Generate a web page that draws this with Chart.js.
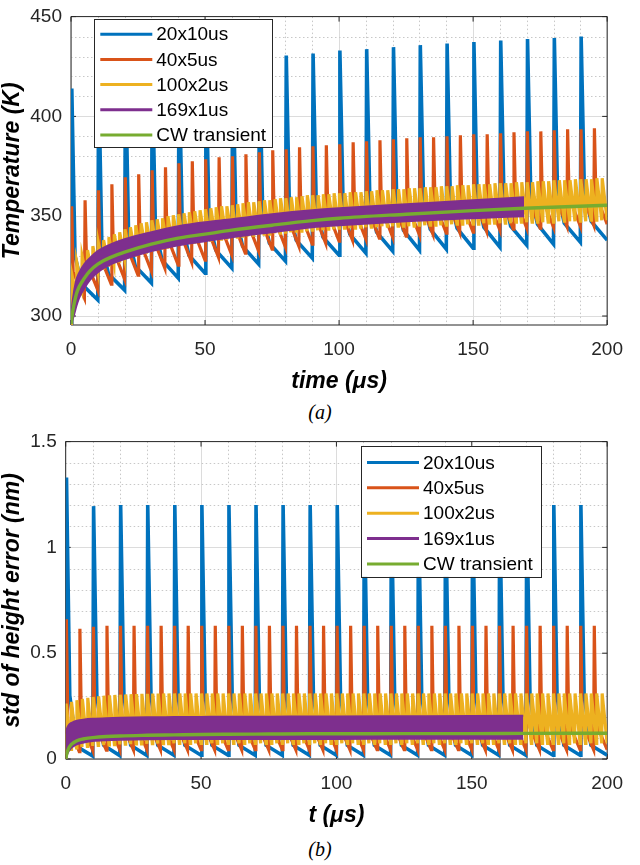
<!DOCTYPE html>
<html>
<head>
<meta charset="utf-8">
<script src="https://cdn.jsdelivr.net/npm/chart.js@4.4.1/dist/chart.umd.min.js"></script>
<style>
  body { margin: 0; background: #fff; width: 640px; height: 865px; position: relative; overflow: hidden; }
  .wrap { position: absolute; left: 0; width: 640px; }
  .cap { position: absolute; left: 0; width: 640px; text-align: center; line-height: 24px;
         font: italic 20px 'Liberation Serif', 'Times New Roman', serif; color: #000; }
</style>
</head>
<body>
<div class="wrap" style="top:0;"><canvas id="chartA" width="640" height="400"></canvas></div>
<div class="cap" style="top:401px;">(a)</div>
<div class="wrap" style="top:425px;"><canvas id="chartB" width="640" height="410"></canvas></div>
<div class="cap" style="top:838px;">(b)</div>
<script>
// ---- legend / axes ----
var seriesNames = ['20x10us', '40x5us', '100x2us', '169x1us', 'CW transient'];
var seriesColors = ['#0072BD', '#D95319', '#EDB120', '#7E2F8E', '#77AC30'];

var xTicks = [0, 50, 100, 150, 200];
var xMinorTicks = [10, 20, 30, 40, 60, 70, 80, 90, 110, 120, 130, 140, 160, 170, 180, 190];
var tempTicks = [300, 350, 400, 450];
var tempMinorTicks = [310, 320, 330, 340, 360, 370, 380, 390, 410, 420, 430, 440];
var errTicks = [0, 0.5, 1, 1.5];
var errMinorTicks = [0.1, 0.2, 0.3, 0.4, 0.6, 0.7, 0.8, 0.9, 1.1, 1.2, 1.3, 1.4];

// ---- (a) temperature, one value per pulse ----
// 20 pulses, 10 us period
var tempBluePeak = [414, 422, 424, 426, 427, 428, 429, 430, 430.5, 431.5,
  433, 433.7, 434.7, 435.7, 436.5, 437.3, 438, 438.8, 439.3, 440];
var tempBlueKnee = [330, 336, 340, 343, 346, 348, 350, 352, 353, 355,
  356, 357, 358, 358.5, 359, 360, 360.5, 361, 362, 363];
var tempBlueMid = [316, 321, 325, 328, 330.5, 333, 335, 336.5, 338, 339.5,
  341, 342, 343, 343.5, 344, 344.5, 345, 346, 346.5, 347.5];
var tempBlueTrough = [296, 308, 313, 316.5, 319, 321.5, 324, 326, 327.5, 329,
  330.5, 331.5, 332.5, 333, 333.5, 334, 334.5, 335.5, 336, 337, 338];

// 40 pulses, 5 us period
var tempOrangePeak = [355, 358, 363, 366, 369.5, 371, 373, 374.5, 376.5, 377.5,
  378.5, 379.5, 380, 381, 382, 383, 383.5, 384.5, 385, 385.5,
  386, 387, 387.5, 388, 388.5, 389, 389.5, 389.5, 390, 390.5,
  391, 391, 391.5, 392, 392.5, 392.5, 393, 393.5, 393.5, 394];
var tempOrangeKnee = [322, 327, 330, 333, 335, 337, 338.5, 340, 341.5, 342.5,
  344, 345, 346, 347, 348, 349, 349.5, 350.5, 351, 352,
  352.5, 353, 353.5, 354, 354.5, 355, 355.5, 356, 356.5, 356.5,
  357, 357.5, 358, 358.5, 358.5, 359, 359.5, 359.5, 360, 360.5];
var tempOrangeTrough = [296, 309, 313, 316, 318.5, 320.5, 322.5, 324, 325.5, 327,
  328, 329.5, 330.5, 331.5, 332.5, 333.5, 334.5, 335, 336, 336.5,
  337.5, 338, 338.5, 339, 339.5, 340, 340.5, 341, 341.5, 342,
  342, 342.5, 343, 343.5, 344, 344, 344.5, 345, 345, 345.5, 346];

// 100 pulses, 2 us period
var tempYellowPeak = [322, 327, 330, 333, 335, 337, 338, 339.5, 341, 342,
  343.5, 344.5, 345.5, 346.5, 347, 348, 348.5, 349, 350, 350.5,
  351, 351.5, 352, 352.5, 353, 353.5, 354, 354.5, 355, 355,
  355.5, 356, 356.5, 357, 357, 357.5, 358, 358, 358.5, 359,
  359, 359.5, 359.5, 360, 360.5, 360.5, 360.5, 361, 361, 361.5,
  361.5, 361.5, 362, 362, 362, 362.5, 362.5, 363, 363, 363,
  363.5, 363.5, 363.5, 364, 364, 364, 364.5, 364.5, 364.5, 365,
  365, 365, 365.5, 365.5, 365.5, 366, 366, 366, 366, 366.5,
  366.5, 366.5, 366.5, 367, 367, 367, 367, 367.5, 367.5, 367.5,
  368, 368, 368, 368, 368.5, 368.5, 368.5, 368.5, 369, 369];
var tempYellowTrough = [296, 310, 315, 318, 320.5, 322.5, 324, 325.5, 326.5, 327.5,
  329, 329.5, 330.5, 331, 332, 333, 333.5, 334, 334.5, 335,
  336, 336.5, 336.5, 337, 337.5, 338, 338, 338.5, 338.5, 339,
  339.5, 339.5, 340, 340, 340.5, 341, 341, 341, 341.5, 341.5,
  342, 342, 342.5, 342.5, 342.5, 343, 343, 343, 343.5, 343.5,
  344, 344, 344, 344, 344.5, 344.5, 344.5, 344.5, 345, 345,
  345, 345, 345, 345, 345, 345.5, 345.5, 345.5, 345.5, 345.5,
  345.5, 346, 346, 346, 346, 346, 346, 346.5, 346.5, 346.5,
  346.5, 346.5, 346.5, 347, 347, 347, 347, 347, 347, 347,
  347, 347.5, 347.5, 347.5, 347.5, 347.5, 347.5, 348, 348, 348, 348];

// 169 x 1 us: band edges of the fast oscillation
var purpleTimes = [0, 0.5, 1, 2, 3, 5, 7, 10, 15, 20, 30, 40, 50, 60, 75, 90, 100, 125, 150, 169];
var tempPurpleHigh = [298, 306, 311, 318, 321.5, 326, 329, 332.5, 336, 338.5,
  342, 345, 347, 348.5, 351, 353, 354, 356, 358, 359.5];
var tempPurpleLow = [296, 298, 300, 305, 309, 314, 318, 322, 326, 328.5,
  332.5, 335.5, 337.5, 339.5, 342, 344.5, 345.5, 347.5, 349, 350];

var cwTimes = [0, 0.5, 1, 2, 3, 5, 7, 10, 15, 20, 30, 40, 50, 60, 75, 90, 100, 125, 150, 169, 200];
var tempCW = [296, 301, 305, 311, 314.5, 319, 322.5, 326, 329.5, 332,
  336, 339, 341, 343, 345.5, 347.8, 349, 351, 352.8, 354, 355.5];

// ---- (b) std of height error ----
var errBluePeak = [1.33, 1.195, 1.2, 1.2, 1.2, 1.2, 1.2, 1.2, 1.2, 1.2,
  1.2, 1.2, 1.2, 1.2, 1.2, 1.2, 1.2, 1.2, 1.2, 1.2];
var errBlueKnee = [0.3, 0.3, 0.3, 0.3, 0.3, 0.3, 0.3, 0.3, 0.3, 0.3,
  0.3, 0.3, 0.3, 0.3, 0.3, 0.3, 0.3, 0.3, 0.3, 0.3];
var errBlueMid = [0.06, 0.065, 0.065, 0.065, 0.065, 0.065, 0.065, 0.065, 0.065, 0.065,
  0.065, 0.065, 0.065, 0.065, 0.065, 0.065, 0.065, 0.065, 0.065, 0.065];
var errBlueTrough = [0, 0.014, 0.016, 0.017, 0.018, 0.018, 0.018, 0.018, 0.018, 0.018,
  0.018, 0.018, 0.018, 0.018, 0.018, 0.018, 0.018, 0.018, 0.018, 0.018, 0.018];

var errOrangePeak = [0.66, 0.615, 0.625, 0.63, 0.63, 0.63, 0.63, 0.63, 0.63, 0.63,
  0.63, 0.63, 0.63, 0.63, 0.63, 0.63, 0.63, 0.63, 0.63, 0.63,
  0.63, 0.63, 0.63, 0.63, 0.63, 0.63, 0.63, 0.63, 0.63, 0.63,
  0.63, 0.63, 0.63, 0.63, 0.63, 0.63, 0.63, 0.63, 0.63, 0.63];
var errOrangeKnee = [0.17, 0.17, 0.17, 0.17, 0.17, 0.17, 0.17, 0.17, 0.17, 0.17,
  0.17, 0.17, 0.17, 0.17, 0.17, 0.17, 0.17, 0.17, 0.17, 0.17,
  0.17, 0.17, 0.17, 0.17, 0.17, 0.17, 0.17, 0.17, 0.17, 0.17,
  0.17, 0.17, 0.17, 0.17, 0.17, 0.17, 0.17, 0.17, 0.17, 0.17];
var errOrangeTrough = [0, 0.035, 0.04, 0.042, 0.043, 0.044, 0.044, 0.044, 0.044, 0.044,
  0.044, 0.044, 0.044, 0.044, 0.044, 0.044, 0.044, 0.044, 0.044, 0.044,
  0.044, 0.044, 0.044, 0.044, 0.044, 0.044, 0.044, 0.044, 0.044, 0.044,
  0.044, 0.044, 0.044, 0.044, 0.044, 0.044, 0.044, 0.044, 0.044, 0.044, 0.044];

var errYellowPeak = [0.262, 0.27, 0.278, 0.284, 0.289, 0.293, 0.296, 0.299, 0.301, 0.303,
  0.304, 0.305, 0.306, 0.307, 0.308, 0.308, 0.309, 0.309, 0.31, 0.31,
  0.31, 0.31, 0.31, 0.31, 0.31, 0.31, 0.31, 0.31, 0.31, 0.31,
  0.31, 0.31, 0.31, 0.31, 0.31, 0.31, 0.31, 0.31, 0.31, 0.31,
  0.31, 0.31, 0.31, 0.31, 0.31, 0.31, 0.31, 0.31, 0.31, 0.31,
  0.31, 0.31, 0.31, 0.31, 0.31, 0.31, 0.31, 0.31, 0.31, 0.31,
  0.31, 0.31, 0.31, 0.31, 0.31, 0.31, 0.31, 0.31, 0.31, 0.31,
  0.31, 0.31, 0.31, 0.31, 0.31, 0.31, 0.31, 0.31, 0.31, 0.31,
  0.31, 0.31, 0.31, 0.31, 0.31, 0.31, 0.31, 0.31, 0.31, 0.31,
  0.31, 0.31, 0.31, 0.31, 0.31, 0.31, 0.31, 0.31, 0.31, 0.31];
var errYellowTrough = [0, 0.045, 0.052, 0.057, 0.06, 0.062, 0.064, 0.066, 0.067, 0.068,
  0.069, 0.07, 0.07, 0.071, 0.071, 0.072, 0.072, 0.073, 0.073, 0.073,
  0.074, 0.074, 0.074, 0.074, 0.074, 0.074, 0.074, 0.074, 0.074, 0.074,
  0.074, 0.074, 0.074, 0.074, 0.074, 0.074, 0.074, 0.074, 0.074, 0.074,
  0.074, 0.074, 0.074, 0.074, 0.074, 0.074, 0.074, 0.074, 0.074, 0.074,
  0.074, 0.074, 0.074, 0.074, 0.074, 0.074, 0.074, 0.074, 0.074, 0.074,
  0.074, 0.074, 0.074, 0.074, 0.074, 0.074, 0.074, 0.074, 0.074, 0.074,
  0.074, 0.074, 0.074, 0.074, 0.074, 0.074, 0.074, 0.074, 0.074, 0.074,
  0.074, 0.074, 0.074, 0.074, 0.074, 0.074, 0.074, 0.074, 0.074, 0.074,
  0.074, 0.074, 0.074, 0.074, 0.074, 0.074, 0.074, 0.074, 0.074, 0.074, 0.074];

var errPurpleHigh = [0.12, 0.145, 0.158, 0.17, 0.176, 0.183, 0.187, 0.19, 0.193, 0.195,
  0.197, 0.198, 0.199, 0.2, 0.2, 0.201, 0.201, 0.202, 0.203, 0.204];
var errPurpleLow = [0, 0.02, 0.035, 0.052, 0.062, 0.073, 0.079, 0.085, 0.089, 0.091,
  0.093, 0.094, 0.094, 0.095, 0.095, 0.095, 0.095, 0.096, 0.096, 0.096];
var errCW = [0, 0.03, 0.048, 0.068, 0.078, 0.09, 0.096, 0.101, 0.106, 0.109,
  0.112, 0.114, 0.116, 0.117, 0.118, 0.119, 0.119, 0.12, 0.12, 0.121, 0.122];

// where inside a period the peak / knee / mid points sit (us after pulse start)
var blueShape = { rise: 0.3, knee: 1.5, mid: 4 };
var orangeShape = { rise: 0.25, knee: 0.8 };
var yellowShape = { rise: 0.15 };

// one pulse per period: start at trough, jump to peak, fall through knee/mid
function pulseTrain(period, shape, trough, peak, knee, mid) {
  var pts = [];
  for (var k = 0; k < peak.length; k++) {
    var t0 = k * period;
    pts.push({ x: t0, y: trough[k] });
    pts.push({ x: t0 + shape.rise, y: peak[k] });
    if (knee) pts.push({ x: t0 + shape.knee, y: knee[k] });
    if (mid) pts.push({ x: t0 + shape.mid, y: mid[k] });
  }
  pts.push({ x: peak.length * period, y: trough[peak.length] });
  return pts;
}

function curve(times, vals) {
  return times.map(function (t, i) { return { x: t, y: vals[i] }; });
}

function buildDatasets(s) {
  return [
    { label: seriesNames[0], data: s.blue, borderColor: seriesColors[0], borderWidth: 3.6, order: 5 },
    { label: seriesNames[1], data: s.orange, borderColor: seriesColors[1], borderWidth: 3.2, order: 4 },
    { label: seriesNames[2], data: s.yellow, borderColor: seriesColors[2], borderWidth: 3.2, order: 3 },
    { label: seriesNames[3], data: s.purpleLow, borderColor: seriesColors[3], borderWidth: 2,
      cubicInterpolationMode: 'monotone', order: 2 },
    { label: '', data: s.purpleHigh, borderColor: seriesColors[3], borderWidth: 2,
      backgroundColor: seriesColors[3], fill: '-1', cubicInterpolationMode: 'monotone', order: 2 },
    { label: seriesNames[4], data: s.cw, borderColor: seriesColors[4], borderWidth: 3.4,
      cubicInterpolationMode: 'monotone', order: 1 }
  ];
}

// MATLAB style box, inward ticks, dotted minor grid and a boxed legend
var matlabBox = {
  id: 'matlabBox',
  beforeDatasetsDraw: function (chart, args, o) {
    var ctx = chart.ctx, a = chart.chartArea, xs = chart.scales.x, ys = chart.scales.y;
    ctx.save();
    ctx.lineWidth = 1;
    ctx.strokeStyle = '#c8c8c8';
    ctx.setLineDash([1.5, 2.5]);
    ctx.beginPath();
    o.xMinor.forEach(function (v) {
      var px = Math.round(xs.getPixelForValue(v)) + 0.5;
      ctx.moveTo(px, a.top); ctx.lineTo(px, a.bottom);
    });
    o.yMinor.forEach(function (v) {
      var py = Math.round(ys.getPixelForValue(v)) + 0.5;
      ctx.moveTo(a.left, py); ctx.lineTo(a.right, py);
    });
    ctx.stroke();
    ctx.setLineDash([]);
    ctx.strokeStyle = '#262626';
    ctx.beginPath();
    ctx.rect(a.left, a.top, a.right - a.left, a.bottom - a.top);
    o.xMajor.forEach(function (v) {
      var px = xs.getPixelForValue(v);
      ctx.moveTo(px, a.bottom); ctx.lineTo(px, a.bottom - 5);
      ctx.moveTo(px, a.top); ctx.lineTo(px, a.top + 5);
    });
    o.yMajor.forEach(function (v) {
      var py = ys.getPixelForValue(v);
      ctx.moveTo(a.left, py); ctx.lineTo(a.left + 5, py);
      ctx.moveTo(a.right, py); ctx.lineTo(a.right - 5, py);
    });
    ctx.stroke();
    ctx.restore();
  },
  afterDatasetsDraw: function (chart, args, o) {
    var lg = o.legend, ctx = chart.ctx, a = chart.chartArea;
    var x0 = a.left + lg.left, y0 = a.top + lg.top;
    ctx.save();
    ctx.fillStyle = '#fff';
    ctx.fillRect(x0, y0, lg.width, lg.height);
    ctx.strokeStyle = '#262626';
    ctx.lineWidth = 1;
    ctx.strokeRect(Math.round(x0) + 0.5, Math.round(y0) + 0.5, lg.width, lg.height);
    ctx.font = '19px "Liberation Sans", Arial, sans-serif';
    ctx.textBaseline = 'middle';
    ctx.fillStyle = '#000';
    seriesNames.forEach(function (name, i) {
      var y = y0 + lg.first + i * lg.step;
      ctx.strokeStyle = seriesColors[i];
      ctx.lineWidth = 3;
      ctx.beginPath(); ctx.moveTo(x0 + 6, y); ctx.lineTo(x0 + 58, y); ctx.stroke();
      ctx.fillText(name, x0 + 62, y + 1);
    });
    ctx.restore();
  }
};

Chart.defaults.font.family = "'Liberation Sans', Arial, sans-serif";
Chart.defaults.color = '#262626';

function makeChart(id, c) {
  var tickFont = { size: 19, lineHeight: 0.8 };
  var titleFont = { size: 23, weight: 'bold', style: 'italic' };
  return new Chart(document.getElementById(id), {
    type: 'line',
    data: { datasets: c.datasets },
    plugins: [matlabBox],
    options: {
      responsive: false,
      animation: false,
      events: [],
      layout: { padding: { top: c.padTop, right: 17.3, bottom: 0, left: 0 } },
      elements: { point: { radius: 0 }, line: { tension: 0, fill: false } },
      scales: {
        x: {
          type: 'linear', min: 0, max: 200,
          afterBuildTicks: function (s) { s.ticks = xTicks.map(function (v) { return { value: v }; }); },
          afterFit: function (s) { s.height = c.xHeight; },
          grid: { color: '#dcdcdc', drawTicks: false },
          border: { display: false },
          ticks: { font: tickFont, padding: c.xTickPad, maxRotation: 0, autoSkip: false,
                   callback: function (v) { return String(v); } },
          title: { display: true, text: c.xTitle, color: '#000',
                   font: Object.assign({ lineHeight: 1.2 }, titleFont), padding: { top: 0, bottom: c.xTitlePad } }
        },
        y: {
          type: 'linear', min: c.yMin, max: c.yMax,
          afterBuildTicks: function (s) { s.ticks = c.yTicks.map(function (v) { return { value: v }; }); },
          afterFit: function (s) { s.width = c.yWidth; },
          grid: { color: '#dcdcdc', drawTicks: false },
          border: { display: false },
          ticks: { font: tickFont, padding: 9, autoSkip: false,
                   callback: function (v) { return String(v); } },
          title: { display: true, text: c.yTitle, color: '#000',
                   font: Object.assign({ lineHeight: 1.1 }, titleFont), padding: { top: 0, bottom: 0 } }
        }
      },
      plugins: {
        legend: { display: false },
        tooltip: { enabled: false },
        matlabBox: { xMajor: xTicks, xMinor: xMinorTicks, yMajor: c.yTicks, yMinor: c.yMinor, legend: c.legend }
      }
    }
  });
}

makeChart('chartA', {
  datasets: buildDatasets({
    blue: pulseTrain(10, blueShape, tempBlueTrough, tempBluePeak, tempBlueKnee, tempBlueMid),
    orange: pulseTrain(5, orangeShape, tempOrangeTrough, tempOrangePeak, tempOrangeKnee),
    yellow: pulseTrain(2, yellowShape, tempYellowTrough, tempYellowPeak),
    purpleLow: curve(purpleTimes, tempPurpleLow),
    purpleHigh: curve(purpleTimes, tempPurpleHigh),
    cw: curve(cwTimes, tempCW)
  }),
  padTop: 8.1, xHeight: 75, yWidth: 71, xTickPad: 17, xTitlePad: 5,
  yMin: 295.5, yMax: 450, yTicks: tempTicks, yMinor: tempMinorTicks,
  xTitle: 'time (\u03bcs)', yTitle: 'Temperature (K)',
  legend: { left: 23.3, top: 2.6, width: 178, height: 128, first: 15, step: 25.2 }
});

makeChart('chartB', {
  datasets: buildDatasets({
    blue: pulseTrain(10, blueShape, errBlueTrough, errBluePeak, errBlueKnee, errBlueMid),
    orange: pulseTrain(5, orangeShape, errOrangeTrough, errOrangePeak, errOrangeKnee),
    yellow: pulseTrain(2, yellowShape, errYellowTrough, errYellowPeak),
    purpleLow: curve(purpleTimes, errPurpleLow),
    purpleHigh: curve(purpleTimes, errPurpleHigh),
    cw: curve(cwTimes, errCW)
  }),
  padTop: 15.7, xHeight: 76, yWidth: 65.7, xTickPad: 17, xTitlePad: 6,
  yMin: 0, yMax: 1.5, yTicks: errTicks, yMinor: errMinorTicks,
  xTitle: 't (\u03bcs)', yTitle: 'std of height error (nm)',
  legend: { left: 295.3, top: 4.3, width: 180, height: 131, first: 16.5, step: 25.4 }
});
</script>
</body>
</html>
